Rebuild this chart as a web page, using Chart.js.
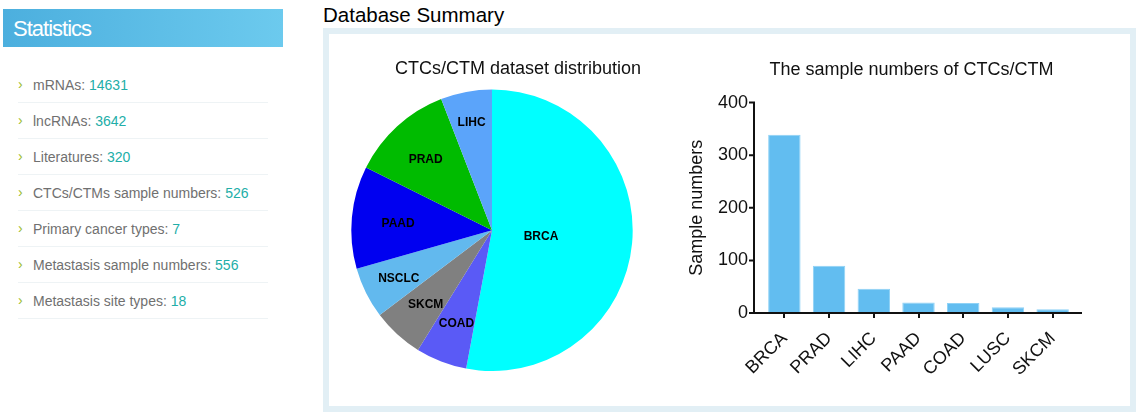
<!DOCTYPE html>
<html><head><meta charset="utf-8">
<script src="https://cdn.jsdelivr.net/npm/chart.js@4.4.0/dist/chart.umd.min.js"></script>
<style>
html,body{margin:0;padding:0;background:#fff;width:1142px;height:418px;overflow:hidden;font-family:"Liberation Sans",Arial,sans-serif;}
#side-head{position:absolute;left:3px;top:9px;width:280px;height:38px;background:linear-gradient(to right,#4cafde,#6ccaee);color:#fff;font-size:22px;letter-spacing:-1px;line-height:39px;text-indent:10px;}
#stats{position:absolute;left:18px;top:67px;width:250px;margin:0;padding:0;list-style:none;}
#stats li{height:35px;line-height:36px;border-bottom:1px solid #eef3f5;font-size:14px;color:#707070;position:relative;padding-left:15px;}
#stats li .arr{position:absolute;left:0;top:-1px;color:#9cbc2c;font-size:14px;}
#stats li .v{color:#22aea8;}
#heading{position:absolute;left:323px;top:3px;font-size:20.5px;line-height:24px;color:#000;}
#box{position:absolute;left:323px;top:28px;width:813px;height:384px;border:6px solid #e2eff5;box-sizing:border-box;}
#pieWrap{position:absolute;left:330px;top:48px;width:376px;height:323px;}
#barWrap{position:absolute;left:688px;top:50px;width:447px;height:343px;}
</style>
</head>
<body>
<div id="side-head">Statistics</div>
<ul id="stats"></ul>
<div id="heading">Database Summary</div>
<div id="box"></div>
<div id="pieWrap"><canvas id="pie"></canvas></div>
<div id="barWrap"><canvas id="bar"></canvas></div>
<script>
// ---- data ----
const statLabels = ['mRNAs', 'lncRNAs', 'Literatures', 'CTCs/CTMs sample numbers', 'Primary cancer types', 'Metastasis sample numbers', 'Metastasis site types'];
const statValues = [14631, 3642, 320, 526, 7, 556, 18];

const pieLabels = ['BRCA', 'COAD', 'SKCM', 'NSCLC', 'PAAD', 'PRAD', 'LIHC'];
const pieValues = [9, 1, 1, 1, 2, 2, 1];
const pieColors = ['#00ffff', '#5a5af6', '#808080', '#62b9ee', '#0000f0', '#00bb00', '#5ba4fa'];
const pieLabelRadius = [0.35, 0.7, 0.7, 0.74, 0.67, 0.7, 0.79];

const barLabels = ['BRCA', 'PRAD', 'LIHC', 'PAAD', 'COAD', 'LUSC', 'SKCM'];
const barValues = [339, 90, 46, 20, 19, 11, 7];
const yTicks = [0, 100, 200, 300, 400];

// ---- sidebar ----
const ul = document.getElementById('stats');
statLabels.forEach((l, i) => {
  const li = document.createElement('li');
  li.innerHTML = '<span class="arr">&rsaquo;</span>' + l + ': <span class="v">' + statValues[i] + '</span>';
  ul.appendChild(li);
});

// ---- charts ----
const FAM = '"Liberation Sans", Arial, sans-serif';
Chart.defaults.font.family = FAM;
Chart.defaults.color = '#111';

const pieLabelPlugin = {
  id: 'pieLabels',
  afterLayout(chart) {
    // pie sits left of the centred title
    chart.chartArea.right -= 52;
    chart.chartArea.width -= 52;
  },
  afterDatasetsDraw(chart) {
    const meta = chart.getDatasetMeta(0);
    const ctx = chart.ctx;
    ctx.save();
    ctx.font = 'bold 12px ' + FAM;
    ctx.fillStyle = '#000';
    ctx.textAlign = 'center';
    ctx.textBaseline = 'middle';
    meta.data.forEach((arc, i) => {
      const p = arc.getProps(['x', 'y', 'startAngle', 'endAngle', 'outerRadius'], true);
      const m = (p.startAngle + p.endAngle) / 2;
      const r = p.outerRadius * pieLabelRadius[i];
      ctx.fillText(pieLabels[i], p.x + Math.cos(m) * r, p.y + Math.sin(m) * r + 2);
    });
    ctx.restore();
  }
};

new Chart(document.getElementById('pie'), {
  type: 'pie',
  data: { labels: pieLabels, datasets: [{ data: pieValues, backgroundColor: pieColors, borderWidth: 0, hoverOffset: 0 }] },
  options: {
    responsive: true, maintainAspectRatio: false, animation: false,
    plugins: {
      legend: { display: false }, tooltip: { enabled: false },
      title: { display: true, text: 'CTCs/CTM dataset distribution', color: '#111', font: { size: 18, weight: 'normal' }, padding: { top: 10, bottom: 10 } }
    }
  },
  plugins: [pieLabelPlugin]
});

const axisPlugin = {
  id: 'axisLines',
  afterDatasetsDraw(chart) {
    const { ctx, chartArea: ca } = chart;
    const y = chart.scales.y;
    const ax = ca.left - 8;
    const y0 = y.getPixelForValue(0);
    const yTop = y.getPixelForValue(yTicks[yTicks.length - 1]);
    ctx.save();
    ctx.strokeStyle = '#111';
    ctx.lineWidth = 2;
    ctx.beginPath();
    ctx.moveTo(ax, yTop - 1); ctx.lineTo(ax, y0 + 1);
    ctx.moveTo(ax - 1, y0); ctx.lineTo(ca.right + 7, y0);
    y.ticks.forEach(t => { const p = y.getPixelForValue(t.value); ctx.moveTo(ax - 5, p); ctx.lineTo(ax, p); });
    ctx.stroke();
    ctx.restore();
  }
};

new Chart(document.getElementById('bar'), {
  type: 'bar',
  data: { labels: barLabels, datasets: [{ data: barValues, backgroundColor: '#62bdf0', borderColor: '#8fd2f6', borderWidth: 1, categoryPercentage: 0.725, barPercentage: 1 }] },
  options: {
    responsive: true, maintainAspectRatio: false, animation: false,
    plugins: {
      legend: { display: false }, tooltip: { enabled: false },
      title: { display: true, text: 'The sample numbers of CTCs/CTM', color: '#111', font: { size: 18, weight: 'normal' }, padding: { top: 9, bottom: 22 } }
    },
    scales: {
      x: {
        offset: true,
        grid: { display: true, drawOnChartArea: false, offset: false, color: '#111', lineWidth: 2, tickLength: 5 },
        border: { display: false },
        ticks: { minRotation: 45, maxRotation: 45, color: '#111', font: { size: 18 }, padding: 10 },
        afterFit: s => { s.height = 80; }
      },
      y: {
        min: 0, max: 400,
        afterBuildTicks: s => { s.ticks = yTicks.map(v => ({ value: v })); },
        grid: { drawOnChartArea: false, tickLength: 13, color: 'rgba(0,0,0,0)' },
        border: { display: false },
        ticks: { color: '#111', font: { size: 18 }, padding: 1 },
        title: { display: true, text: 'Sample numbers', color: '#111', font: { size: 18, lineHeight: 1 }, padding: { top: 0, bottom: 0 } },
        afterFit: s => { s.width = 74; }
      },
      spacer: {
        type: 'linear', position: 'right', display: true,
        ticks: { display: false }, grid: { display: false }, border: { display: false },
        afterFit: s => { s.width = 60; }
      }
    }
  },
  plugins: [axisPlugin]
});
</script>
</body></html>
